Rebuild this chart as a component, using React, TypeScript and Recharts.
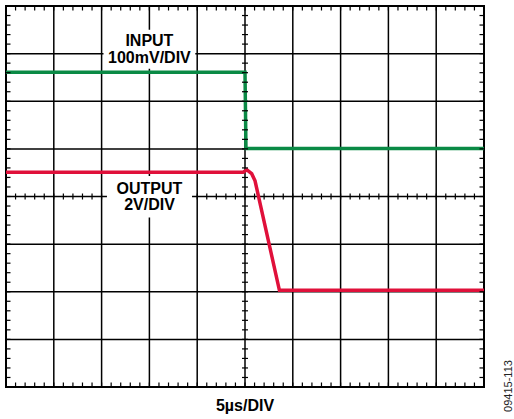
import {
  CartesianGrid,
  ComposedChart,
  Line,
  ReferenceArea,
  Scatter,
  XAxis,
  YAxis,
} from 'recharts';

// time in µs (5µs/DIV), level in screen divisions (8 DIV tall)
const inputTime = [0, 25.0, 25.1, 50];
const inputLevel = [6.61, 6.61, 5.01, 5.01];
const outputTime = [0, 24.8, 25.2, 25.7, 26.05, 28.6, 50];
const outputLevel = [4.51, 4.51, 4.56, 4.48, 4.33, 2.03, 2.03];

const majorTimeTicks = [0, 5, 10, 15, 20, 25, 30, 35, 40, 45, 50];
const majorLevelTicks = [0, 1, 2, 3, 4, 5, 6, 7, 8];
const minorTimeTicks = Array.from({ length: 51 }, (_, i) => i);
const minorLevelTicks = Array.from({ length: 41 }, (_, i) => Math.round(i * 2) / 10);

// label boxes, in µs / DIV
const inputBox = { x1: 10.2, x2: 19.8, y1: 6.68, y2: 7.5 };
const outputBox = { x1: 10.56, x2: 19.46, y1: 3.56, y2: 4.43 };

const FONT = '"Liberation Sans", Arial, Helvetica, sans-serif';

function toPoints(times: number[], levels: number[]) {
  return times.map((t, i) => ({ t, v: levels[i] }));
}

function notUnder(box: { x1: number; x2: number; y1: number; y2: number }) {
  return (p: { t: number; v: number }) => !(p.t > box.x1 && p.t < box.x2 && p.v > box.y1 && p.v < box.y2);
}

const inputData = toPoints(inputTime, inputLevel);
const outputData = toPoints(outputTime, outputLevel);

const topTicks = minorTimeTicks.map((t) => ({ t, v: 8 }));
const bottomTicks = minorTimeTicks.map((t) => ({ t, v: 0 }));
const centerRowTicks = minorTimeTicks.map((t) => ({ t, v: 4 })).filter(notUnder(outputBox));
const leftTicks = minorLevelTicks.map((v) => ({ t: 0, v }));
const rightTicks = minorLevelTicks.map((v) => ({ t: 50, v }));
const centerColTicks = minorLevelTicks.map((v) => ({ t: 25, v }));

function tickMark(dx1: number, dy1: number, dx2: number, dy2: number) {
  return (props: any) => {
    const { cx, cy } = props;
    if (typeof cx !== 'number' || typeof cy !== 'number') {
      return <g />;
    }
    return <line x1={cx + dx1} y1={cy + dy1} x2={cx + dx2} y2={cy + dy2} stroke="#000" strokeWidth={1.2} />;
  };
}

function boxLabel(lines: string[]) {
  return (props: any) => {
    const vb = props.viewBox ?? {};
    const cx = vb.x + vb.width / 2;
    const cy = vb.y + vb.height / 2;
    return (
      <text textAnchor="middle" fontFamily={FONT} fontWeight="bold" fontSize={16} fill="#000">
        <tspan x={cx} y={cy - 3}>{lines[0]}</tspan>
        <tspan x={cx} y={cy + 13.5}>{lines[1]}</tspan>
      </text>
    );
  };
}

const emptyTick = () => <g />;

export default function App() {
  return (
    <div style={{ position: 'absolute', left: 0, top: 0, width: 514, height: 419, background: '#fff' }}>
      <ComposedChart width={514} height={419} margin={{ top: 6, right: 30, bottom: 0, left: 6 }}>
        <XAxis
          type="number"
          dataKey="t"
          domain={[0, 50]}
          ticks={majorTimeTicks}
          interval={0}
          allowDataOverflow
          tick={emptyTick}
          tickLine={false}
          axisLine={false}
          height={32}
          label={{ value: '5µs/DIV', position: 'insideBottom', offset: 8, fill: '#000', fontSize: 16, fontWeight: 'bold', fontFamily: FONT }}
        />
        <YAxis type="number" dataKey="v" domain={[0, 8]} ticks={majorLevelTicks} allowDataOverflow hide />
        <CartesianGrid stroke="#000" strokeWidth={1.5} />

        <Scatter data={topTicks} shape={tickMark(0, 0, 0, 4.5)} isAnimationActive={false} />
        <Scatter data={bottomTicks} shape={tickMark(0, 0, 0, -4.5)} isAnimationActive={false} />
        <Scatter data={leftTicks} shape={tickMark(0, 0, 4.5, 0)} isAnimationActive={false} />
        <Scatter data={rightTicks} shape={tickMark(0, 0, -4.5, 0)} isAnimationActive={false} />
        <Scatter data={centerRowTicks} shape={tickMark(0, -3, 0, 3)} isAnimationActive={false} />
        <Scatter data={centerColTicks} shape={tickMark(-3, 0, 3, 0)} isAnimationActive={false} />

        <ReferenceArea x1={0} x2={50} y1={0} y2={8} fill="none" stroke="#000" strokeWidth={2} ifOverflow="visible" />
        <ReferenceArea {...inputBox} fill="#fff" fillOpacity={1} stroke="none" label={boxLabel(['INPUT', '100mV/DIV'])} />
        <ReferenceArea {...outputBox} fill="#fff" fillOpacity={1} stroke="none" label={boxLabel(['OUTPUT', '2V/DIV'])} />

        <Line data={inputData} dataKey="v" type="linear" stroke="#0A8A45" strokeWidth={3.5} dot={false} isAnimationActive={false} />
        <Line data={outputData} dataKey="v" type="linear" stroke="#E0103A" strokeWidth={3.5} dot={false} isAnimationActive={false} />
      </ComposedChart>
      <div
        style={{
          position: 'absolute',
          left: 508,
          top: 386,
          transform: 'translate(-50%, -50%) rotate(-90deg)',
          fontFamily: FONT,
          fontSize: 11,
          color: '#222',
          whiteSpace: 'nowrap',
        }}
      >
        09415-113
      </div>
    </div>
  );
}
